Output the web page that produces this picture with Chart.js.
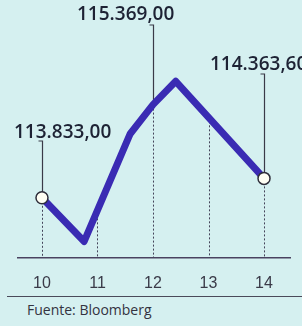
<!DOCTYPE html>
<html><head><meta charset="utf-8">
<script src="https://cdn.jsdelivr.net/npm/chart.js@4.4.1/dist/chart.umd.min.js"></script>
<style>
html,body{margin:0;padding:0;background:#d5f0f0;width:302px;height:326px;overflow:hidden;}
#wrap{position:absolute;left:0;top:0;width:302px;height:296px;}
#rule{position:absolute;left:7px;top:296px;width:295px;height:0;border-top:1.5px solid #4a4a5a;}
#src{position:absolute;left:27px;top:301px;font:14px/18px 'Open Sans',sans-serif;color:#333340;}
</style></head><body>
<div id="wrap"><canvas id="c" width="302" height="296"></canvas></div>
<div id="rule"></div>
<div id="src">Fuente: Bloomberg</div>
<script>
// ---- data ----
const days = [10, 11, 12, 13, 14];
const tickLabels = ['10', '11', '12', '13', '14'];
const lineX = [10, 10.76, 11.59, 12, 12.41, 14];
const lineY = [113833, 113113, 114889, 115369, 115753, 114153];
const markerDays = [10, 14];
const calloutDays = [10, 12, 14];
const calloutLabels = ['113.833,00', '115.369,00', '114.363,60'];

// ---- layout of callouts (pixels) ----
const calloutTextX = [14, 77, 210];
const calloutBaseline = [138, 20, 70];
const calloutTopY = [141, 25, 74];

function valueAt(d) {
  for (let i = 0; i < lineX.length - 1; i++) {
    if (d >= lineX[i] && d <= lineX[i + 1]) {
      const t = (d - lineX[i]) / (lineX[i + 1] - lineX[i]);
      return lineY[i] + t * (lineY[i + 1] - lineY[i]);
    }
  }
  return lineY[lineY.length - 1];
}

const guides = {
  id: 'guides',
  beforeDatasetsDraw(chart) {
    const { ctx, scales: { x, y }, chartArea } = chart;
    const base = chartArea.bottom;
    ctx.save();
    ctx.strokeStyle = '#44445a';
    ctx.lineWidth = 1;
    ctx.setLineDash([2, 2]);
    days.forEach(d => {
      const px = Math.round(x.getPixelForValue(d)) + 0.5;
      const py = y.getPixelForValue(valueAt(d));
      ctx.beginPath(); ctx.moveTo(px, py); ctx.lineTo(px, base); ctx.stroke();
    });
    ctx.setLineDash([]);
    ctx.strokeStyle = '#3a3a48';
    ctx.lineWidth = 1.2;
    calloutDays.forEach((d, i) => {
      const px = Math.round(x.getPixelForValue(d)) + 0.5;
      const py = y.getPixelForValue(valueAt(d));
      ctx.beginPath();
      ctx.moveTo(px - 4, calloutTopY[i]);
      ctx.lineTo(px, calloutTopY[i]);
      ctx.lineTo(px, py);
      ctx.stroke();
    });
    ctx.restore();
  },
  afterDatasetsDraw(chart) {
    const { ctx } = chart;
    ctx.save();
    ctx.fillStyle = '#1d2234';
    ctx.font = "600 19px 'Open Sans', sans-serif";
    ctx.textBaseline = 'alphabetic';
    ctx.textAlign = 'left';
    calloutLabels.forEach((t, i) => ctx.fillText(t, calloutTextX[i], calloutBaseline[i]));
    ctx.restore();
  }
};

new Chart(document.getElementById('c'), {
  type: 'line',
  data: {
    datasets: [{
      data: lineX.map((x, i) => ({ x: x, y: lineY[i] })),
      borderColor: '#3a2bb3',
      borderWidth: 7,
      borderJoinStyle: 'round',
      borderCapStyle: 'round',
      tension: 0,
      pointRadius: c => markerDays.includes(c.raw.x) ? 6 : 0,
      pointHoverRadius: 0,
      pointBackgroundColor: '#fffff4',
      pointBorderColor: '#2e2e3a',
      pointBorderWidth: 1.5
    }]
  },
  options: {
    responsive: false,
    animation: false,
    devicePixelRatio: 1,
    layout: { padding: { left: 18, right: 12, top: 0, bottom: 7 } },
    plugins: { legend: { display: false }, tooltip: { enabled: false } },
    scales: {
      x: {
        type: 'linear',
        min: 9.568,
        max: 14.468,
        afterBuildTicks: a => { a.ticks = days.map(v => ({ value: v })); },
        afterFit: s => { s.height = 31; },
        grid: { display: false, drawTicks: false },
        border: { display: true, color: '#4a4260', width: 1.5 },
        ticks: {
          padding: 16,
          color: '#3a3a48',
          maxRotation: 0,
          font: { family: "'Liberation Sans Narrow', 'Liberation Sans', sans-serif", size: 16 },
          callback: v => tickLabels[days.indexOf(v)]
        }
      },
      y: { display: false, min: 112841, max: 116969 }
    }
  },
  plugins: [guides]
});
</script>
</body></html>
